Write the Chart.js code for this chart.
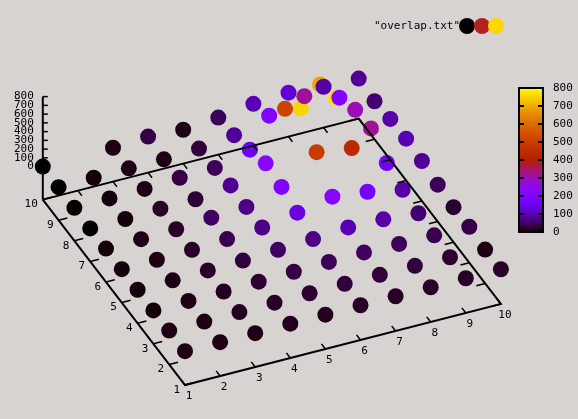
<!DOCTYPE html>
<html>
<head>
<meta charset="utf-8">
<script src="https://cdn.jsdelivr.net/npm/chart.js@4"></script>
<style>
  html, body { margin: 0; padding: 0; background: #d6d3d0; }
  canvas { display: block; }
</style>
</head>
<body>
<canvas id="chart" width="578" height="419"></canvas>
<script>
// grid coordinates
const xVals = [1, 2, 3, 4, 5, 6, 7, 8, 9, 10];
const yVals = [1, 2, 3, 4, 5, 6, 7, 8, 9, 10];
// z values, one row per y (1..10), columns x = 1..10; null = no point
const zRows = [
  [10, 10, 10, 15, 15, 20, 20, 20, 20, 20],
  [10, 10, 15, 20, 25, 30, 30, 30, 25, 10],
  [5, 10, 15, 25, 35, 45, 50, 45, 40, 35],
  [5, 10, 20, 30, 50, 70, 100, 90, 57, 23],
  [5, 10, 20, 40, 70, 137, 217, 170, 90, 45],
  [5, 10, 20, 50, 70, 195, 490, 434, 160, 80],
  [0, 5, 20, 25, 80, 230, 754, 770, 320, 100],
  [0, 5, 10, 35, 45, 150, 514, 690, 297, 90],
  [0, 5, 10, 10, 30, 80, 200, 320, 200, 57],
  [0, null, 10, 35, 10, 46, 100, 125, 90, 80]
];
const zTicks = [0, 100, 200, 300, 400, 500, 600, 700, 800];
const cbTicks = [0, 100, 200, 300, 400, 500, 600, 700, 800];
const keyLabel = '"overlap.txt"';
const keyColors = ['#000000', '#b22222', '#ffd700'];

const zMin = 0, zMax = 800;
const FONT = '11px "DejaVu Sans Mono", monospace';

// gnuplot palette rgbformulae 7,5,15
function palette(v) {
  const g = Math.max(0, Math.min(1, (v - zMin) / (zMax - zMin)));
  const c = t => Math.round(Math.max(0, Math.min(1, t)) * 255);
  return `rgb(${c(Math.sqrt(g))},${c(g * g * g)},${c(Math.sin(2 * Math.PI * g))})`;
}

// view projection (x, y on the base plane, z lifted)
const zBase = -377;
function proj(x, y, z) {
  return {
    X: 185 + 35.1 * (x - 1) - 15.8 * (y - 1),
    Y: 385 - 9 * (x - 1) - 20.6 * (y - 1) - 0.0875 * (z - zBase)
  };
}

const points = [], colors = [];
xVals.forEach((x, i) => {
  yVals.forEach((y, j) => {
    const z = zRows[j][i];
    if (z === null) return;
    const p = proj(x, y, z);
    points.push({ x: p.X, y: p.Y });
    colors.push(palette(z));
  });
});

const axesPlugin = {
  id: 'axes3d',
  afterDatasetsDraw(chart) {
    const ctx = chart.ctx;
    const sx = chart.scales.x, sy = chart.scales.y;
    const P = (x, y, z) => { const p = proj(x, y, z); return [sx.getPixelForValue(p.X), sy.getPixelForValue(p.Y)]; };
    ctx.save();
    ctx.strokeStyle = '#000';
    ctx.lineWidth = 2;
    const c11 = P(1, 1, zBase), c101 = P(10, 1, zBase), c1010 = P(10, 10, zBase), c110 = P(1, 10, zBase);
    ctx.beginPath();
    ctx.moveTo(...c110); ctx.lineTo(...c11); ctx.lineTo(...c101); ctx.lineTo(...c1010); ctx.lineTo(...c110);
    ctx.stroke();
    // z axis
    const zt = P(1, 10, zMax);
    ctx.beginPath(); ctx.moveTo(...c110); ctx.lineTo(...zt); ctx.stroke();
    ctx.lineWidth = 1.5;
    ctx.font = FONT;
    ctx.fillStyle = '#000';
    // x ticks
    xVals.forEach(x => {
      const a = P(x, 1, zBase), b = P(x, 1.25, zBase);
      const a2 = P(x, 10, zBase), b2 = P(x, 9.75, zBase);
      ctx.beginPath(); ctx.moveTo(...a); ctx.lineTo(...b); ctx.moveTo(...a2); ctx.lineTo(...b2); ctx.stroke();
      ctx.textAlign = 'center'; ctx.textBaseline = 'middle';
      ctx.fillText(String(x), a[0] + 4, a[1] + 11);
    });
    // y ticks
    yVals.forEach(y => {
      const a = P(1, y, zBase), b = P(1.25, y, zBase);
      const a2 = P(10, y, zBase), b2 = P(9.75, y, zBase);
      ctx.beginPath(); ctx.moveTo(...a); ctx.lineTo(...b); ctx.moveTo(...a2); ctx.lineTo(...b2); ctx.stroke();
      ctx.textAlign = 'right'; ctx.textBaseline = 'middle';
      ctx.fillText(String(y), a[0] - 5, a[1] + 5);
    });
    // z ticks
    zTicks.forEach(z => {
      const a = P(1, 10, z);
      ctx.beginPath(); ctx.moveTo(a[0], a[1]); ctx.lineTo(a[0] + 5, a[1]); ctx.stroke();
      ctx.textAlign = 'right'; ctx.textBaseline = 'middle';
      ctx.fillText(String(z), a[0] - 9, a[1]);
    });
    // colour box
    const bx = 519, bw = 24, bTop = 88, bBot = 232;
    for (let yy = bTop; yy < bBot; yy++) {
      ctx.fillStyle = palette(zMax - (yy - bTop + 0.5) / (bBot - bTop) * (zMax - zMin));
      ctx.fillRect(bx, yy, bw, 1);
    }
    ctx.strokeStyle = '#000'; ctx.lineWidth = 2;
    ctx.strokeRect(bx, bTop, bw, bBot - bTop);
    ctx.fillStyle = '#000';
    cbTicks.forEach(v => {
      const yy = bBot - (v - zMin) / (zMax - zMin) * (bBot - bTop);
      ctx.beginPath();
      ctx.moveTo(bx, yy); ctx.lineTo(bx + 5, yy);
      ctx.moveTo(bx + bw, yy); ctx.lineTo(bx + bw - 5, yy);
      ctx.stroke();
      ctx.textAlign = 'left'; ctx.textBaseline = 'middle';
      ctx.fillText(String(v), bx + bw + 10, yy);
    });
    // key
    ctx.textAlign = 'right'; ctx.textBaseline = 'middle';
    ctx.fillText(keyLabel, 460, 26);
    [467, 482, 496].forEach((kx, k) => {
      ctx.fillStyle = keyColors[k];
      ctx.beginPath(); ctx.arc(kx, 26, 8, 0, 2 * Math.PI); ctx.fill();
    });
    ctx.restore();
  }
};

new Chart(document.getElementById('chart'), {
  type: 'scatter',
  data: {
    datasets: [{
      data: points,
      pointBackgroundColor: colors,
      pointBorderWidth: 0,
      pointRadius: 8,
      pointHoverRadius: 8,
      clip: false
    }]
  },
  options: {
    responsive: false,
    devicePixelRatio: 1,
    animation: false,
    layout: { padding: 0, autoPadding: false },
    plugins: { legend: { display: false }, tooltip: { enabled: false } },
    scales: {
      x: { type: 'linear', min: 0, max: 578, display: false },
      y: { type: 'linear', min: 0, max: 419, reverse: true, display: false }
    }
  },
  plugins: [axesPlugin]
});
</script>
</body>
</html>
